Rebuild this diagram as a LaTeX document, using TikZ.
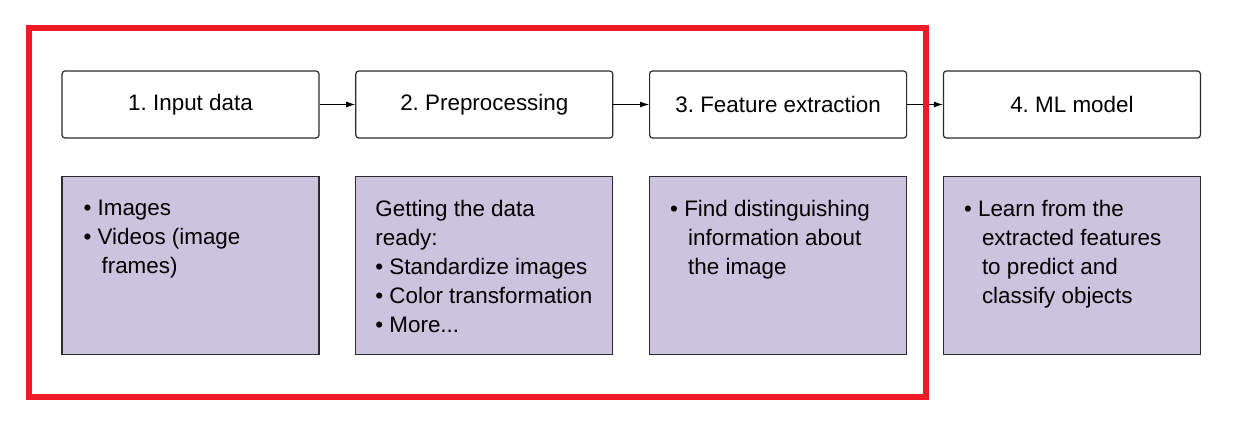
\documentclass[tikz,border=0pt]{standalone}
\usepackage{fontspec}
\setmainfont{Liberation Sans}
\usetikzlibrary{arrows.meta,positioning}
\definecolor{Lavender}{HTML}{CCC3DF}
\definecolor{FrameRed}{HTML}{ED1C24}
\definecolor{EdgeGray}{HTML}{2B2B2B}
\newcommand{\hang}{\hspace*{18pt}}
\frenchspacing

\begin{document}
\begin{tikzpicture}[x=1pt,y=1pt,
    stagebox/.style={draw=EdgeGray, line width=1.2pt, rounded corners=3pt, fill=white,
        minimum width=257pt, minimum height=67pt, inner sep=0pt,
        font=\fontsize{22.4}{29}\selectfont},
    infobox/.style={draw=EdgeGray, line width=1.2pt, fill=Lavender,
        minimum width=257pt, minimum height=178pt, inner sep=0pt},
    infotext/.style={anchor=north west, align=left, inner sep=0pt,
        font=\fontsize{22.4}{29}\selectfont},
    flow/.style={line width=0.8pt, -{Latex[length=9pt,width=6pt]}},
    node distance=35.6pt]
    \useasboundingbox (0,0) rectangle (1235,431);

    % stages
    \node[stagebox] (step1) at (190.5,326.5) {1. Input data};
    \node[stagebox, right=of step1] (step2) {2. Preprocessing};
    \node[stagebox, right=of step2] (step3) {3. Feature extraction};
    \node[stagebox, right=of step3] (step4) {4. ML model};

    \draw[flow] (step1) -- (step2);
    \draw[flow] (step2) -- (step3);
    \draw[flow] (step3) -- (step4);

    % details
    \node[infobox, below=37.5pt of step1] (info1) {};
    \node[infobox, below=37.5pt of step2] (info2) {};
    \node[infobox, below=37.5pt of step3] (info3) {};
    \node[infobox, below=37.5pt of step4] (info4) {};

    \node[infotext] (text1) at ([xshift=22pt,yshift=-24pt]info1.north west)
        {\textbullet{} Images\\ \textbullet{} Videos (image\\ \hang frames)};
    \node[infotext] (text2) at ([xshift=20pt,yshift=-24pt]info2.north west)
        {Getting the data\\ ready:\\ \textbullet{} Standardize images\\
         \textbullet{} Color transformation\\ \textbullet{} More...};
    \node[infotext] (text3) at ([xshift=21pt,yshift=-24pt]info3.north west)
        {\textbullet{} Find distinguishing\\ \hang information about\\ \hang the image};
    \node[infotext] (text4) at ([xshift=21pt,yshift=-24pt]info4.north west)
        {\textbullet{} Learn from the\\ \hang extracted features\\ \hang to predict and\\ \hang classify objects};

    % scope of this chapter
    \draw[FrameRed, line width=6pt] (29,403) rectangle (926,33.5);
\end{tikzpicture}
\end{document}
